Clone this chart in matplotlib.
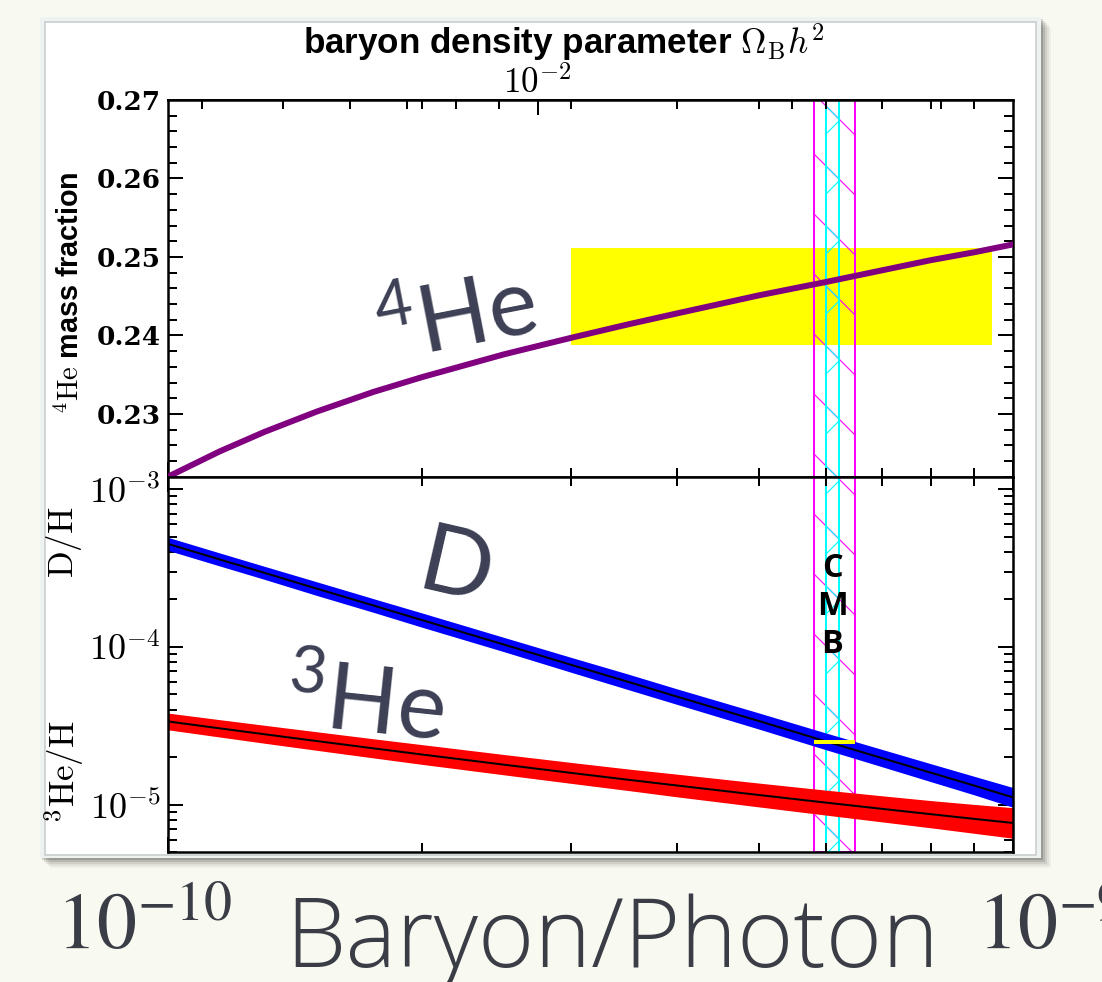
import numpy as np
import matplotlib
matplotlib.use('Agg')
import matplotlib.pyplot as plt
from matplotlib.patches import Rectangle
from matplotlib.ticker import FuncFormatter, NullFormatter, LogLocator, MultipleLocator

plt.rcParams['mathtext.fontset'] = 'cm'
plt.rcParams['mathtext.rm'] = 'Lato'
plt.rcParams['hatch.linewidth'] = 0.45

# baryon-to-photon ratio, in units of 1e-10
eta10 = [1.0, 1.15, 1.3, 1.5, 1.75, 2.0, 2.5, 3.0, 3.5, 4.0, 5.0, 6.0, 7.0, 8.0, 9.0, 10.0]
# 4He mass fraction
yp = [0.2220, 0.2252, 0.2277, 0.2303, 0.2328, 0.2347, 0.2376, 0.2397, 0.2414, 0.2428,
      0.2451, 0.2468, 0.2483, 0.2496, 0.2506, 0.2516]
# D/H and its fractional error
dh = [4.50e-4, 3.59e-4, 2.95e-4, 2.34e-4, 1.83e-4, 1.476e-4, 1.033e-4, 7.69e-5, 6.01e-5, 4.84e-5,
      3.39e-5, 2.52e-5, 1.97e-5, 1.59e-5, 1.318e-5, 1.11e-5]
dh_err = [0.10, 0.10, 0.10, 0.105, 0.105, 0.11, 0.11, 0.115, 0.12, 0.12,
          0.125, 0.13, 0.135, 0.14, 0.145, 0.155]
# 3He/H and its fractional error
he3 = [3.365e-5, 3.045e-5, 2.792e-5, 2.527e-5, 2.272e-5, 2.075e-5, 1.789e-5, 1.587e-5, 1.437e-5,
       1.321e-5, 1.150e-5, 1.029e-5, 9.39e-6, 8.68e-6, 8.11e-6, 7.64e-6]
he3_err = [0.13, 0.135, 0.14, 0.145, 0.15, 0.155, 0.16, 0.165, 0.17, 0.18,
           0.19, 0.20, 0.21, 0.22, 0.235, 0.25]

# observations
he4_obs_eta = [3.0e-10, 9.45e-10]
he4_obs = [0.2388, 0.2511]
cmb_wide = [5.82e-10, 6.51e-10]
cmb_narrow = [6.0e-10, 6.22e-10]
dh_obs = 2.51e-5

he4_ticks = [0.23, 0.24, 0.25, 0.26, 0.27]

eta = np.array(eta10) * 1e-10
dh = np.array(dh); dh_err = np.array(dh_err)
he3 = np.array(he3); he3_err = np.array(he3_err)

W, H, DPI = 1102, 982, 180
fig = plt.figure(figsize=(W / DPI, H / DPI), dpi=DPI)
fig.patch.set_facecolor('#f8f9f0')


def fig_rect(x0, y0, x1, y1, **kw):
    fig.add_artist(Rectangle((x0 / W, 1 - y1 / H), (x1 - x0) / W, (y1 - y0) / H,
                             transform=fig.transFigure, **kw))


# slide panel with a drop shadow
for k, a in [(10, 0.04), (8, 0.06), (6, 0.08), (4, 0.11), (2, 0.15)]:
    fig_rect(40 + k, 17 + k, 1041 + k, 858 + k, facecolor='black', alpha=a, lw=0, zorder=-4)
fig_rect(40, 17, 1041, 858, facecolor='#eef2f1', lw=0, zorder=-3)
fig_rect(45, 22, 1036, 855, facecolor='white', edgecolor='#c5c9c9', lw=0.6, zorder=-2)

x0, x1 = 168, 1013
ax1 = fig.add_axes([x0 / W, 1 - 476.7 / H, (x1 - x0) / W, (476.7 - 100) / H])
ax2 = fig.add_axes([x0 / W, 1 - 852 / H, (x1 - x0) / W, (852 - 476.7) / H])

for ax in (ax1, ax2):
    ax.set_xscale('log')
    ax.set_xlim(1e-10, 1e-9)
    ax.xaxis.set_major_formatter(NullFormatter())
    ax.xaxis.set_minor_formatter(NullFormatter())
    ax.tick_params(which='both', direction='in', right=True, top=True, width=0.8,
                   labelsize=14.5, pad=3)
    ax.tick_params(which='major', length=6)
    ax.tick_params(which='minor', length=3.6)
    for s in ax.spines.values():
        s.set_linewidth(1.0)
    # CMB bands
    ax.axvspan(*cmb_wide, facecolor='none', edgecolor='magenta', hatch='\\', lw=0.8, zorder=1)
    ax.axvspan(*cmb_narrow, facecolor='none', edgecolor='cyan', hatch='x', lw=0.8, zorder=1)

ax1.tick_params(top=False, labelbottom=False)
ax2.tick_params(labelbottom=False)

# top panel: 4He
ax1.set_ylim(0.222, 0.27)
ax1.set_yticks(he4_ticks, ['%.2f' % v for v in he4_ticks], fontfamily='DejaVu Serif',
               fontweight='bold', fontsize=10.5)
ax1.yaxis.set_minor_locator(MultipleLocator(0.002))
ax1.fill_between(he4_obs_eta, he4_obs[0], he4_obs[1], color='yellow', lw=0, zorder=0.5)
ax1.plot(eta, yp, color='#800080', lw=2.4, zorder=3)

sec = ax1.secondary_xaxis('top', functions=(lambda e: e * 1e10 / 273.9,
                                             lambda o: o * 273.9e-10))
sec.tick_params(which='both', direction='in', width=0.8, labelsize=14, pad=0)
sec.tick_params(which='major', length=6)
sec.tick_params(which='minor', length=3.6)
sec.xaxis.set_major_formatter(FuncFormatter(lambda v, p: r'$10^{%d}$' % round(np.log10(v))))
sec.xaxis.set_minor_formatter(NullFormatter())

# bottom panel: D and 3He
ax2.set_yscale('log')
ax2.set_ylim(5e-6, 1.2e-3)
ax2.yaxis.set_major_locator(LogLocator(base=10))
ax2.yaxis.set_minor_locator(LogLocator(base=10, subs=np.arange(2, 10)))
ax2.yaxis.set_major_formatter(FuncFormatter(lambda v, p: r'$10^{%d}$' % round(np.log10(v))))
ax2.yaxis.set_minor_formatter(NullFormatter())

ax2.fill_between(eta, dh / (1 + dh_err), dh * (1 + dh_err), color='blue', lw=0, zorder=2)
ax2.plot(eta, dh, color='black', lw=0.8, zorder=3)
ax2.fill_between(eta, he3 / (1 + he3_err), he3 * (1 + he3_err), color='red', lw=0, zorder=2)
ax2.plot(eta, he3, color='black', lw=0.8, zorder=3)
ax2.plot(cmb_wide, [dh_obs, dh_obs], color='yellow', lw=1.6, solid_capstyle='butt', zorder=4)

ax2.text(6.11e-10, 1.8e-4, 'C\nM\nB', ha='center', va='center', fontsize=13,
         fontweight='bold', family='Open Sans', linespacing=1.19, zorder=5)

# element labels
lab = '#3d4055'
ax1.text(2.2e-10, 0.2418, r'$\mathrm{^{4}He}$', math_fontfamily='custom', fontsize=37,
         color=lab, rotation=11, ha='center', va='center', rotation_mode='anchor')
ax2.text(2.19e-10, 3.08e-4, 'D', family='Lato', fontsize=38, color=lab, rotation=-13,
         ha='center', va='center', rotation_mode='anchor')
ax2.text(1.71e-10, 4.2e-5, r'$\mathrm{^{3}He}$', math_fontfamily='custom', fontsize=37,
         color=lab, rotation=-6, ha='center', va='center', rotation_mode='anchor')

# axis labels
fig.text(70 / W, 1 - 293 / H, r'$^{4}\mathrm{He}$ mass fraction', rotation=90, ha='center',
         va='center', fontsize=11.5, fontweight='bold', family='Liberation Sans')
fig.text(64 / W, 1 - 542 / H, r'$\mathrm{D/H}$', rotation=90, ha='center', va='center',
         fontsize=14)
fig.text(64 / W, 1 - 772 / H, r'$^{3}\mathrm{He/H}$', rotation=90, ha='center', va='center',
         fontsize=14)
fig.text(564 / W, 1 - 42 / H, r'baryon density parameter $\Omega_{\rm B}h^2$', ha='center',
         va='center', fontsize=14, fontweight='bold', family='Liberation Sans')

# slide caption
cap = '#3a3c46'
fig.text(56 / W, 1 - 948 / H, r'$10^{-10}$', math_fontfamily='stix', fontsize=32, color=cap,
         ha='left', va='baseline')
fig.text(285 / W, 1 - 967 / H, 'Baryon/Photon', family='Open Sans', fontweight='light',
         fontsize=38.5, color=cap, ha='left', va='baseline')
fig.text(977 / W, 1 - 948 / H, r'$10^{-9}$', math_fontfamily='stix', fontsize=32, color=cap,
         ha='left', va='baseline')

fig.savefig('out.png', dpi=DPI, facecolor=fig.get_facecolor())
